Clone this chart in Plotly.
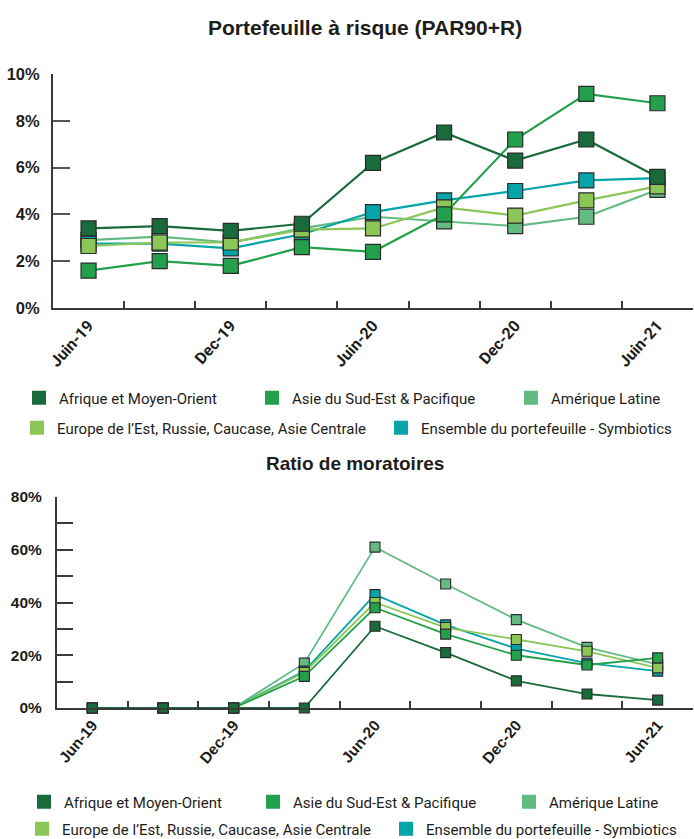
import plotly.graph_objects as go

# ---------------- data ----------------
periods = ["Jun-19", "Sep-19", "Dec-19", "Mar-20", "Jun-20",
           "Sep-20", "Dec-20", "Mar-21", "Jun-21"]
top_tick_labels = ["Juin-19", "", "Dec-19", "", "Juin-20", "", "Dec-20", "", "Juin-21"]
bottom_tick_labels = ["Jun-19", "", "Dec-19", "", "Jun-20", "", "Dec-20", "", "Jun-21"]

series_names = [
    "Afrique et Moyen-Orient",
    "Asie du Sud-Est & Pacifique",
    "Amérique Latine",
    "Europe de l’Est, Russie, Caucase, Asie Centrale",
    "Ensemble du portefeuille - Symbiotics",
]
series_colors = ["#1a6b3c", "#22a04b", "#63bb82", "#8cc657", "#05a4a9"]

# Portefeuille à risque (PAR90+R), %
par_afrique = [3.4, 3.5, 3.3, 3.6, 6.2, 7.5, 6.3, 7.2, 5.6]
par_asie = [1.6, 2.0, 1.8, 2.6, 2.4, 4.0, 7.2, 9.15, 8.75]
par_amerique = [2.9, 3.05, 2.8, 3.4, 3.9, 3.7, 3.5, 3.9, 5.05]
par_europe = [2.65, 2.8, 2.8, 3.35, 3.4, 4.3, 3.95, 4.6, 5.2]
par_ensemble = [2.75, 2.75, 2.55, 3.15, 4.1, 4.6, 5.0, 5.45, 5.55]

# Ratio de moratoires, %
mor_afrique = [0, 0, 0, 0, 31, 21, 10.3, 5.3, 3.0]
mor_asie = [0, 0, 0, 12, 38, 28, 20, 16.3, 19]
mor_amerique = [0, 0, 0, 17, 61, 47, 33.5, 23, 16.5]
mor_europe = [0, 0, 0, 13.5, 40, 30.5, 26, 21.5, 15.2]
mor_ensemble = [0, 0, 0, 14, 43, 31.5, 22.5, 17, 14]

par_series = [par_afrique, par_asie, par_amerique, par_europe, par_ensemble]
mor_series = [mor_afrique, mor_asie, mor_amerique, mor_europe, mor_ensemble]

# drawing order (bottom -> top): Amérique, Ensemble, Europe, Asie, Afrique
draw_order = [2, 4, 3, 1, 0]

W, H = 694, 839
TXT = "#1d1d1b"
ROBOTO = "Roboto, Liberation Sans, sans-serif"
ARIAL = "Liberation Sans, Arial, sans-serif"

fig = go.Figure()

for i in draw_order:
    fig.add_trace(go.Scatter(
        x=periods, y=par_series[i], name=series_names[i], mode="lines+markers",
        line=dict(color=series_colors[i], width=2.2),
        marker=dict(symbol="square", size=15, color=series_colors[i],
                    line=dict(color="#2a2a2a", width=1.2)),
        xaxis="x", yaxis="y", showlegend=False, cliponaxis=False))

for i in draw_order:
    fig.add_trace(go.Scatter(
        x=periods, y=mor_series[i], name=series_names[i], mode="lines+markers",
        line=dict(color=series_colors[i], width=1.8),
        marker=dict(symbol="square", size=10, color=series_colors[i],
                    line=dict(color="#2a2a2a", width=1.1)),
        xaxis="x2", yaxis="y2", showlegend=False, cliponaxis=False))

# ---------------- legends (one per entry, laid out as in the reference) ----------------
legend_rows_top = [398, 428]
legend_rows_bottom = [802, 829]
legend_text_x_top = [66, 299, 558, 64, 428]
legend_text_x_bottom = [71, 300, 556, 69, 433]
legend_row_of = [0, 0, 0, 1, 1]

layout_legends = {}
k = 1
for rows, xs, ax in [(legend_rows_top, legend_text_x_top, ("x", "y")),
                     (legend_rows_bottom, legend_text_x_bottom, ("x2", "y2"))]:
    for i in range(5):
        lname = "legend" if k == 1 else f"legend{k}"
        fig.add_trace(go.Scatter(
            x=[None], y=[None], mode="markers", name=series_names[i],
            marker=dict(symbol="square", size=14, color=series_colors[i]),
            xaxis=ax[0], yaxis=ax[1], showlegend=True, legend=lname))
        layout_legends[lname] = dict(
            x=(xs[i] - 47) / W, xanchor="left",
            y=1 - rows[legend_row_of[i]] / H, yanchor="middle",
            orientation="h", bgcolor="rgba(0,0,0,0)", borderwidth=0,
            font=dict(family=ROBOTO, size=15, color=TXT),
            itemclick=False, itemdoubleclick=False)
        k += 1

axis_common = dict(showline=True, linecolor="#3a3a3a", linewidth=2, showgrid=False,
                   zeroline=False, fixedrange=True)

fig.update_layout(
    width=W, height=H,
    margin=dict(l=0, r=0, t=0, b=0, autoexpand=False),
    paper_bgcolor="white", plot_bgcolor="white",
    hovermode=False,
    xaxis=dict(domain=[53 / W, 693 / W], anchor="y", type="category",
               range=[-0.5, 8.5], tickmode="array", tickvals=periods, ticktext=top_tick_labels,
               tickson="boundaries", ticks="inside", ticklen=7, tickwidth=1.5, tickcolor="#3a3a3a",
               tickangle=-48, tickfont=dict(family=ROBOTO, size=16, color=TXT, weight="bold"),
               **axis_common),
    yaxis=dict(domain=[(H - 308) / H, (H - 74) / H], anchor="x", range=[0, 10],
               tickmode="array", tickvals=[0, 2, 4, 6, 8, 10],
               ticktext=["0%", "2%", "4%", "6%", "8%", "10%"],
               ticks="inside", ticklen=17, tickwidth=2, tickcolor="#555555",
               ticklabelstandoff=8,
               tickfont=dict(family=ARIAL, size=16.5, color=TXT, weight="bold"),
               **axis_common),
    xaxis2=dict(domain=[57 / W, 693 / W], anchor="y2", type="category",
                range=[-0.5, 8.5], tickmode="array", tickvals=periods, ticktext=bottom_tick_labels,
                tickson="boundaries", ticks="inside", ticklen=7, tickwidth=1.5, tickcolor="#3a3a3a",
                tickangle=-50, tickfont=dict(family=ARIAL, size=15.5, color=TXT, weight="bold"),
                **axis_common),
    yaxis2=dict(domain=[(H - 708) / H, (H - 497) / H], anchor="x2", range=[0, 80],
                tickmode="array", tickvals=[0, 20, 40, 60, 80],
                ticktext=["0%", "20%", "40%", "60%", "80%"],
                ticks="inside", ticklen=16, tickwidth=1.5, tickcolor="#3a3a3a",
                ticklabelstandoff=10,
                minor=dict(tickmode="array", tickvals=[10, 30, 50, 70], ticks="inside",
                           ticklen=16, tickwidth=1.5, tickcolor="#3a3a3a"),
                tickfont=dict(family=ARIAL, size=15.5, color=TXT, weight="bold"),
                **axis_common),
    annotations=[
        dict(text="<b>Portefeuille à risque (PAR90+R)</b>", x=365 / W, y=1 - 28 / H,
             xref="paper", yref="paper", xanchor="center", yanchor="middle", showarrow=False,
             font=dict(family=ARIAL, size=21, color=TXT)),
        dict(text="<b>Ratio de moratoires</b>", x=355 / W, y=1 - 463 / H,
             xref="paper", yref="paper", xanchor="center", yanchor="middle", showarrow=False,
             font=dict(family=ARIAL, size=19, color=TXT)),
    ],
    **layout_legends,
)

fig.write_html("out.html")
